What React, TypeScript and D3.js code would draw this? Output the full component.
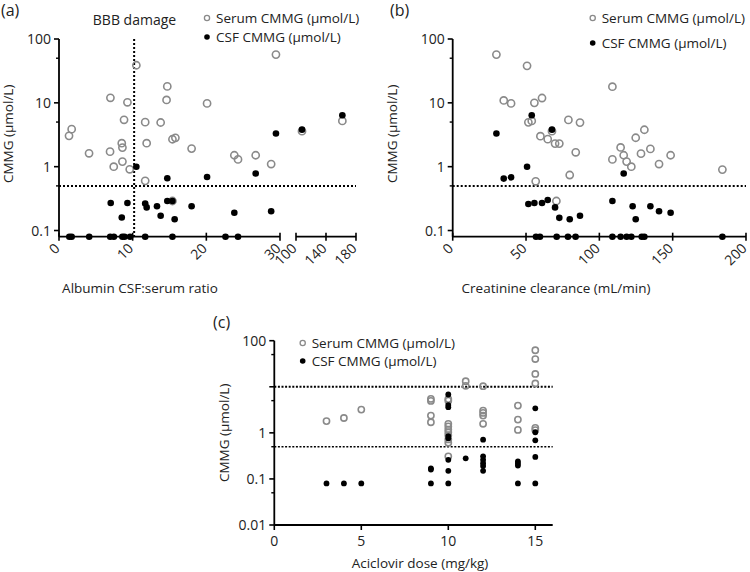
import React from "react";
import * as d3 from "d3";

// ---------- Panel (a): Albumin CSF:serum ratio ----------
const aSerumX = [1.36, 1.72, 4.08, 6.98, 6.93, 7.43, 8.52, 8.61, 8.61, 8.83, 9.29, 9.6, 10.5, 11.7, 11.9, 11.7, 13.8, 14.7, 14.6, 15.4, 15.8, 15.4, 18.0, 20.1, 23.8, 24.3, 26.7, 28.8, 29.45, 108, 161.8];
const aSerumY = [3.04, 3.87, 1.62, 12.0, 1.72, 1.0, 2.33, 1.99, 1.2, 5.42, 10.2, 0.91, 38.8, 4.98, 2.33, 0.6, 4.92, 18.1, 11.1, 2.69, 2.83, 0.29, 1.92, 9.8, 1.51, 1.3, 1.51, 1.1, 57, 3.6, 5.2];
const aCsfX = [10.5, 14.7, 20.1, 26.7, 29.45, 108, 161.8, 7.02, 9.29, 8.52, 11.7, 11.9, 13.3, 13.8, 14.7, 15.4, 15.7, 18.0, 23.8, 28.8, 1.4, 1.72, 4.1, 6.95, 7.45, 8.6, 8.9, 9.65, 11.7, 15.4, 22.6, 24.3];
const aCsfY = [1.0, 0.66, 0.69, 0.78, 3.3, 3.8, 6.4, 0.27, 0.27, 0.16, 0.265, 0.23, 0.24, 0.17, 0.29, 0.29, 0.15, 0.24, 0.19, 0.2, 0.08, 0.08, 0.08, 0.08, 0.08, 0.08, 0.08, 0.08, 0.08, 0.08, 0.08, 0.08];
const aTicksLow = [0, 10, 20, 30];
const aTicksHigh = [100, 140, 180];
const aBBB = 10.2;

// ---------- Panel (b): Creatinine clearance ----------
const bSerumX = [29.8, 50.7, 34.8, 39.8, 55.7, 60.9, 51.6, 53.9, 59.8, 64.8, 67.7, 69.8, 72.7, 78.9, 86.8, 83.9, 79.8, 56.6, 70.7, 108.9, 108.9, 114.5, 116.6, 118.6, 121.8, 124.8, 130.7, 128.4, 134.8, 140.7, 148.6, 183.9];
const bSerumY = [57, 38, 10.9, 9.8, 10, 11.9, 4.95, 5.2, 3.0, 2.7, 3.6, 2.3, 2.3, 5.4, 4.9, 1.68, 0.74, 0.59, 0.29, 17.9, 1.3, 2.0, 1.51, 1.2, 1.0, 2.84, 3.79, 1.6, 1.9, 1.1, 1.51, 0.9];
const bCsfX = [29.8, 53.9, 67.7, 50.7, 34.8, 39.8, 116.6, 51.6, 55.7, 60.9, 64.8, 69.8, 72.7, 79.8, 86.8, 108.9, 122.7, 124.8, 134.8, 140.7, 148.6, 56.8, 59.5, 70.9, 78.6, 83.8, 108.9, 114.5, 118.6, 121.8, 128.9, 130.7, 183.9];
const bCsfY = [3.3, 6.4, 3.8, 1.0, 0.65, 0.68, 0.78, 0.26, 0.27, 0.27, 0.3, 0.23, 0.158, 0.15, 0.17, 0.29, 0.24, 0.15, 0.24, 0.2, 0.19, 0.08, 0.08, 0.08, 0.08, 0.08, 0.08, 0.08, 0.08, 0.08, 0.08, 0.08, 0.08];
const bTicks = [0, 50, 100, 150, 200];

// ---------- Panel (c): Aciclovir dose ----------
const cSerumX = [3, 4, 5, 9, 9, 9, 9, 10, 10, 10, 10, 10, 10, 10, 10, 10, 10, 11, 11, 12, 12, 12, 12, 12, 14, 14, 14, 15, 15, 15, 15, 15, 15];
const cSerumY = [1.8, 2.1, 3.2, 5.46, 4.94, 2.37, 1.7, 5.4, 5.0, 1.57, 1.38, 1.18, 1.03, 0.89, 0.72, 0.61, 0.31, 13.2, 10.5, 10.3, 3.04, 2.71, 2.37, 1.57, 3.9, 1.94, 1.16, 62, 40, 19, 11.8, 1.28, 1.15];
const cCsfX = [3, 4, 5, 9, 9, 9, 10, 10, 10, 10, 10, 10, 10, 10, 11, 12, 12, 12, 12, 12, 12, 14, 14, 14, 14, 15, 15, 15, 15, 15];
const cCsfY = [0.08, 0.08, 0.08, 0.17, 0.16, 0.08, 6.8, 4.0, 3.6, 0.85, 0.76, 0.26, 0.15, 0.08, 0.28, 0.71, 0.31, 0.26, 0.22, 0.19, 0.15, 0.24, 0.215, 0.195, 0.08, 3.4, 1.03, 0.69, 0.3, 0.08];
const cTicks = [0, 5, 10, 15];
const cYLabeled = [100, 1, 0.1, 0.01];
const cYMajor = [100, 10, 1, 0.1, 0.01];
const cYMinor = [50, 5, 0.5, 0.05];
const cRefLines = [10, 0.5];

const abYMajor = [100, 10, 1, 0.1];
const abYMinor = [50, 5, 0.5];
const abRef = 0.5;

const legendLabels = ["Serum CMMG (\u00b5mol/L)", "CSF CMMG (\u00b5mol/L)"];
const yTitle = "CMMG (\u00b5mol/L)";

const FONT = "'Open Sans', 'Noto Sans', sans-serif";
const GRAY = "#8a8a8a";
const TXT = "#222";

function YAxis({ x, scale, major, minor, labels }: any) {
  const [y0, y1] = scale.range();
  return (
    <g>
      <line x1={x} x2={x} y1={y0} y2={y1} stroke="#000" strokeWidth={1.8} />
      {major.map((v: number) => (
        <line key={"M" + v} x1={x - 5} x2={x} y1={scale(v)} y2={scale(v)} stroke="#000" strokeWidth={1.6} />
      ))}
      {minor.map((v: number) => (
        <line key={"m" + v} x1={x - 3} x2={x} y1={scale(v)} y2={scale(v)} stroke="#000" strokeWidth={1.4} />
      ))}
      {labels.map((v: number) => (
        <text key={"t" + v} x={x - 8} y={scale(v)} dy="0.36em" textAnchor="end" fontSize={14} fill={TXT}>
          {String(v)}
        </text>
      ))}
    </g>
  );
}

function Legend({ x, y1, y2 }: any) {
  return (
    <g fontSize={13.5} fill={TXT}>
      <circle cx={x} cy={y1} r={2.6} fill="none" stroke={GRAY} strokeWidth={1.3} />
      <text x={x + 9} y={y1} dy="0.36em">{legendLabels[0]}</text>
      <circle cx={x} cy={y2} r={2.8} fill="#000" />
      <text x={x + 9} y={y2} dy="0.36em">{legendLabels[1]}</text>
    </g>
  );
}

function Dots({ xs, ys, xf, yf, open, r }: any) {
  return (
    <g>
      {xs.map((v: number, i: number) =>
        open ? (
          <circle key={i} cx={xf(v)} cy={yf(ys[i])} r={r} fill="none" stroke={GRAY} strokeWidth={1.6} />
        ) : (
          <circle key={i} cx={xf(v)} cy={yf(ys[i])} r={r} fill="#000" />
        )
      )}
    </g>
  );
}

function RotLabel({ x, y, v }: any) {
  return (
    <text transform={`translate(${x - 2},${y + 9}) rotate(-45)`} textAnchor="end" dy="0.36em" fontSize={14} fill={TXT}>
      {v}
    </text>
  );
}

function PanelA() {
  const y = d3.scaleLog().domain([0.08, 100]).range([236.7, 39]);
  const x1 = d3.scaleLinear().domain([0, 30]).range([59, 280]);
  const x2 = d3.scaleLinear().domain([100, 180]).range([296, 356]);
  const xf = (v: number) => (v <= 30 ? x1(v) : x2(v));
  const ay = y(0.08);
  return (
    <g>
      <text x={1} y={16} fontSize={16} fill={TXT}>(a)</text>
      <text x={134.5} y={25} fontSize={14} textAnchor="middle" fill={TXT}>BBB damage</text>
      <Legend x={207} y1={18} y2={37} />
      <text transform={`translate(13,${(39 + 236.7) / 2 - 4}) rotate(-90)`} textAnchor="middle" fontSize={13.5} fill={TXT}>
        {yTitle}
      </text>
      <text x={140} y={293} textAnchor="middle" fontSize={13.5} fill={TXT}>Albumin CSF:serum ratio</text>
      <line x1={x1(0)} x2={x2(180)} y1={y(abRef)} y2={y(abRef)} stroke="#000" strokeWidth={2} strokeDasharray="2 2" />
      <line x1={x1(aBBB)} x2={x1(aBBB)} y1={y(100)} y2={ay} stroke="#000" strokeWidth={2} strokeDasharray="2 2" />
      <line x1={x1(0)} x2={x1(30)} y1={ay} y2={ay} stroke="#000" strokeWidth={1.8} />
      <line x1={x2(100)} x2={x2(180)} y1={ay} y2={ay} stroke="#000" strokeWidth={1.8} />
      {aTicksLow.map((v) => (
        <g key={"l" + v}>
          <line x1={x1(v)} x2={x1(v)} y1={ay - 4} y2={ay + 4} stroke="#000" strokeWidth={1.6} />
          <RotLabel x={x1(v)} y={ay} v={v} />
        </g>
      ))}
      {aTicksHigh.map((v) => (
        <g key={"h" + v}>
          <line x1={x2(v)} x2={x2(v)} y1={ay - 4} y2={ay + 4} stroke="#000" strokeWidth={1.6} />
          <RotLabel x={x2(v)} y={ay} v={v} />
        </g>
      ))}
      <YAxis x={59} scale={y} major={abYMajor} minor={abYMinor} labels={abYMajor} />
      <Dots xs={aSerumX} ys={aSerumY} xf={xf} yf={y} open r={3.6} />
      <Dots xs={aCsfX} ys={aCsfY} xf={xf} yf={y} r={3.3} />
    </g>
  );
}

function PanelB() {
  const y = d3.scaleLog().domain([0.08, 100]).range([236.7, 39]);
  const x = d3.scaleLinear().domain([0, 200]).range([452.7, 746]);
  const ay = y(0.08);
  return (
    <g>
      <text x={390} y={16} fontSize={16} fill={TXT}>(b)</text>
      <Legend x={592.7} y1={18} y2={43} />
      <text transform={`translate(397,${(39 + 236.7) / 2 - 4}) rotate(-90)`} textAnchor="middle" fontSize={13.5} fill={TXT}>
        {yTitle}
      </text>
      <text x={556} y={293} textAnchor="middle" fontSize={13.5} fill={TXT}>Creatinine clearance (mL/min)</text>
      <line x1={x(0)} x2={x(200)} y1={y(abRef)} y2={y(abRef)} stroke="#000" strokeWidth={2} strokeDasharray="2 2" />
      <line x1={x(0)} x2={x(200)} y1={ay} y2={ay} stroke="#000" strokeWidth={1.8} />
      {bTicks.map((v) => (
        <g key={v}>
          <line x1={x(v)} x2={x(v)} y1={ay - 4} y2={ay + 4} stroke="#000" strokeWidth={1.6} />
          <RotLabel x={x(v)} y={ay} v={v} />
        </g>
      ))}
      <YAxis x={452.7} scale={y} major={abYMajor} minor={abYMinor} labels={abYMajor} />
      <Dots xs={bSerumX} ys={bSerumY} xf={x} yf={y} open r={3.6} />
      <Dots xs={bCsfX} ys={bCsfY} xf={x} yf={y} r={3.3} />
    </g>
  );
}

function PanelC() {
  const y = d3.scaleLog().domain([0.01, 100]).range([525, 340.7]);
  const x = d3.scaleLinear().domain([0, 16]).range([274.3, 552.7]);
  const ay = y(0.01);
  return (
    <g>
      <text x={213} y={328} fontSize={16} fill={TXT}>(c)</text>
      <Legend x={302.7} y1={343} y2={361} />
      <text transform={`translate(229,${(340.7 + 525) / 2}) rotate(-90)`} textAnchor="middle" fontSize={13.5} fill={TXT}>
        {yTitle}
      </text>
      <text x={420} y={568} textAnchor="middle" fontSize={13.5} fill={TXT}>Aciclovir dose (mg/kg)</text>
      {cRefLines.map((v, i) => (
        <line key={v} x1={x(0)} x2={x(16)} y1={y(v)} y2={y(v)} stroke="#000" strokeWidth={i === 0 ? 2 : 1.6} strokeDasharray="2 1.6" />
      ))}
      <line x1={x(0)} x2={x(16)} y1={ay} y2={ay} stroke="#000" strokeWidth={1.8} />
      {cTicks.map((v) => (
        <g key={v}>
          <line x1={x(v)} x2={x(v)} y1={ay} y2={ay + 5} stroke="#000" strokeWidth={1.6} />
          <text x={x(v)} y={ay + 16} textAnchor="middle" dy="0.36em" fontSize={14} fill={TXT}>{v}</text>
        </g>
      ))}
      <YAxis x={274.3} scale={y} major={cYMajor} minor={cYMinor} labels={cYLabeled} />
      <Dots xs={cSerumX} ys={cSerumY} xf={x} yf={y} open r={3.1} />
      <Dots xs={cCsfX} ys={cCsfY} xf={x} yf={y} r={2.9} />
    </g>
  );
}

export default function App() {
  return (
    <svg
      width={750}
      height={572}
      viewBox="0 0 750 572"
      style={{ position: "absolute", left: 0, top: 0, background: "#fff" }}
      fontFamily={FONT}
    >
      <rect x={0} y={0} width={750} height={572} fill="#fff" />
      <PanelA />
      <PanelB />
      <PanelC />
    </svg>
  );
}
